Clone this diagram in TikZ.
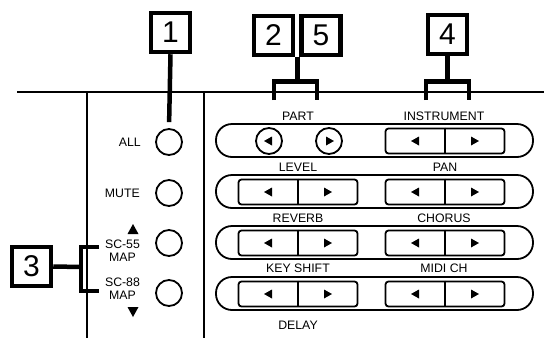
\documentclass[tikz,border=0pt]{standalone}
\usepackage{fontspec}
\setmainfont{Liberation Sans}
\begin{document}
\begin{tikzpicture}[x=1pt,y=-1pt,
  numbox/.style={draw,line width=4.5pt,minimum width=39pt,minimum height=39pt,inner sep=0pt,font=\fontsize{30}{30}\selectfont},
  lab/.style={inner sep=0pt,font=\fontsize{12.3}{12.6}\selectfont},
  rbtn/.style={draw,circle,line width=1.8pt,minimum size=26pt,inner sep=0pt},
  pair/.style={draw,line width=1.8pt,rounded corners=3pt,minimum width=119pt,minimum height=25pt,inner sep=0pt},
  caps/.style={draw,line width=1.8pt,rounded corners=16pt},
  frame/.style={line width=1.5pt},
  conn/.style={line width=4.5pt},
  tri/.style={fill=black}
]
\useasboundingbox (0,0) rectangle (544,338);

% frame lines
\draw[frame] (17,92) -- (544,92);
\draw[frame] (87,92) -- (87,338);
\draw[frame] (204,92) -- (204,338);

% number boxes
\node[numbox] (b1) at (170.5,32.5) {1};
\node[numbox] (b2) at (273.5,35.5) {2};
\node[numbox] (b5) at (321,35.5) {5};
\node[numbox] (b4) at (447.5,34.5) {4};
\node[numbox] (b3) at (31.5,266.5) {3};

% left buttons
\node[rbtn] (c1) at (169,142) {};
\node[rbtn] (c2) at (169,193) {};
\node[rbtn] (c3) at (169,243) {};
\node[rbtn] (c4) at (169,293) {};
\node[lab,anchor=east] (lall) at (141,142) {ALL};
\node[lab,anchor=east] (lmute) at (140,193) {MUTE};
\node[lab,align=center] (lsc55) at (122.5,251) {SC-55\\MAP};
\node[lab,align=center] (lsc88) at (122.5,289) {SC-88\\MAP};
\fill[tri] (133,224) -- (127.5,234) -- (138.5,234) -- cycle;
\fill[tri] (133,317) -- (127.5,307) -- (138.5,307) -- cycle;

% connector 1
\draw[conn,shorten >=6pt] (b1.south) -- (c1.north);

% connector 2/5
\coordinate (j25) at (297.3,57);
\coordinate (k25) at (297.3,81.5);
\draw[conn] (j25) -- (k25);
\draw[conn] (274,100) -- (274,81.5) -- (317,81.5) -- (317,100);

% connector 4
\coordinate (k4) at (447.5,81.5);
\draw[conn] (b4.south) -- (k4);
\draw[conn] (426,100) -- (426,81.5) -- (469,81.5) -- (469,100);

% connector 3
\coordinate (k3) at (81,267);
\draw[conn] (b3.east) -- (k3);
\draw[conn] (99,247) -- (81,247) -- (81,291) -- (99,291);

% capsules
\draw[caps] (216,124) rectangle (533,157);
\draw[caps] (216,175) rectangle (533,208);
\draw[caps] (216,226) rectangle (533,259);
\draw[caps] (216,277) rectangle (533,310);

% row 1: part circles and instrument pair
\node[rbtn] (pl) at (269,141) {};
\node[rbtn] (pr) at (329,141) {};
\fill[tri] (264,141) -- (272,136.5) -- (272,145.5) -- cycle;
\fill[tri] (334,141) -- (326,136.5) -- (326,145.5) -- cycle;

\node[pair] (ins) at (445,141) {};
\node[pair] (lev) at (298,192) {};
\node[pair] (pan) at (445,192) {};
\node[pair] (rev) at (298,243) {};
\node[pair] (cho) at (445,243) {};
\node[pair] (key) at (298,294) {};
\node[pair] (mid) at (445,294) {};
\foreach \n in {ins,lev,pan,rev,cho,key,mid}{
  \draw[line width=1.8pt] (\n.north) -- (\n.south);
  \fill[tri] ([xshift=-34pt]\n.center) -- ++(8,-4.5) -- ++(0,9) -- cycle;
  \fill[tri] ([xshift=34pt]\n.center) -- ++(-8,-4.5) -- ++(0,9) -- cycle;
}

% labels
\node[lab] (tpart) at (298,116) {PART};
\node[lab] (tins) at (444,116) {INSTRUMENT};
\node[lab] (tlev) at (298,167) {LEVEL};
\node[lab] (tpan) at (445,167) {PAN};
\node[lab] (trev) at (298,218) {REVERB};
\node[lab] (tcho) at (444,218) {CHORUS};
\node[lab] (tkey) at (298,268) {KEY SHIFT};
\node[lab] (tmid) at (444,268) {MIDI CH};
\node[lab] (tdel) at (298,325) {DELAY};
\end{tikzpicture}
\end{document}
